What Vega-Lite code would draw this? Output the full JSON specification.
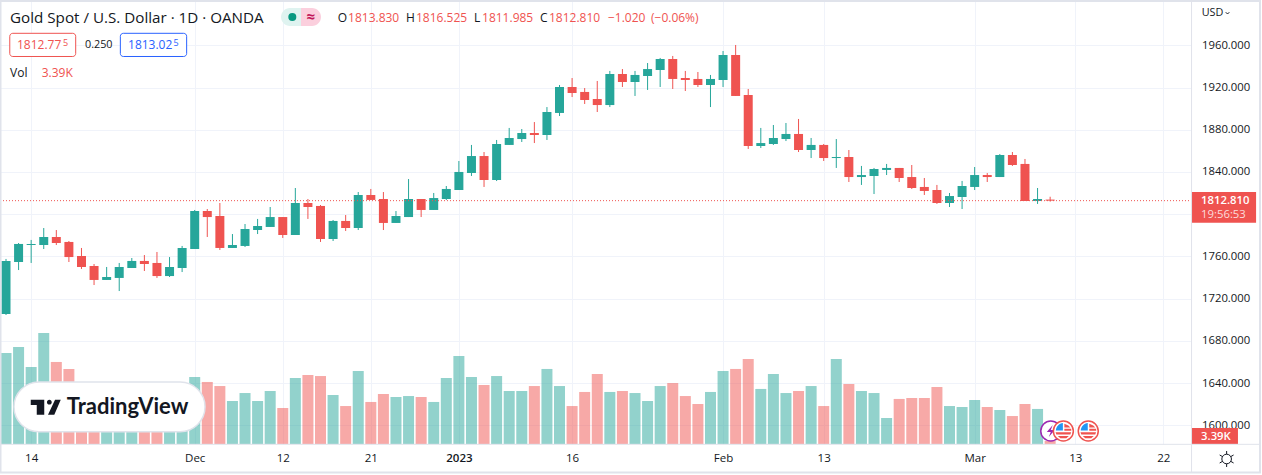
{
  "$schema": "https://vega.github.io/schema/vega-lite/v6.json",
  "description": "Gold Spot / U.S. Dollar daily candles with volume",
  "width": 1191,
  "height": 443,
  "autosize": "none",
  "padding": {"left": 0, "top": 1, "right": 71, "bottom": 31},
  "background": "#ffffff",
  "view": {"stroke": null},
  "config": {
    "font": "Open Sans",
    "axis": {"title": null},
    "text": {"font": "Open Sans"}
  },
  "datasets": {
    "candles": [
      {"bar":0,"open":1705.5,"close":1755.7,"high":1757.6,"low":1704.5,"volume":102.8,"dir":"up"},
      {"bar":1,"open":1754.7,"close":1771.8,"high":1772.7,"low":1747.1,"volume":109.6,"dir":"up"},
      {"bar":2,"open":1770.8,"close":1771.8,"high":1775.6,"low":1753.8,"volume":87.0,"dir":"up"},
      {"bar":3,"open":1770.8,"close":1778.4,"high":1786.9,"low":1767.0,"volume":125.4,"dir":"up"},
      {"bar":4,"open":1778.4,"close":1772.7,"high":1785.0,"low":1770.8,"volume":92.7,"dir":"down"},
      {"bar":5,"open":1773.7,"close":1759.4,"high":1774.6,"low":1754.7,"volume":84.8,"dir":"down"},
      {"bar":6,"open":1760.4,"close":1750.0,"high":1768.0,"low":1748.1,"volume":62.0,"dir":"down"},
      {"bar":7,"open":1750.9,"close":1737.7,"high":1752.8,"low":1732.9,"volume":56.5,"dir":"down"},
      {"bar":8,"open":1737.7,"close":1740.5,"high":1750.0,"low":1737.7,"volume":55.0,"dir":"up"},
      {"bar":9,"open":1739.6,"close":1750.0,"high":1753.8,"low":1727.2,"volume":57.6,"dir":"up"},
      {"bar":10,"open":1749.0,"close":1755.7,"high":1758.5,"low":1749.0,"volume":58.8,"dir":"up"},
      {"bar":11,"open":1755.7,"close":1752.8,"high":1761.3,"low":1746.2,"volume":54.2,"dir":"down"},
      {"bar":12,"open":1753.8,"close":1741.4,"high":1764.2,"low":1739.6,"volume":56.5,"dir":"down"},
      {"bar":13,"open":1741.4,"close":1750.0,"high":1759.4,"low":1740.5,"volume":61.0,"dir":"up"},
      {"bar":14,"open":1749.0,"close":1768.0,"high":1769.9,"low":1745.2,"volume":58.8,"dir":"up"},
      {"bar":15,"open":1767.0,"close":1803.0,"high":1804.0,"low":1767.0,"volume":75.7,"dir":"up"},
      {"bar":16,"open":1803.0,"close":1797.3,"high":1804.9,"low":1778.4,"volume":70.1,"dir":"down"},
      {"bar":17,"open":1798.3,"close":1768.0,"high":1810.6,"low":1766.1,"volume":65.5,"dir":"down"},
      {"bar":18,"open":1768.0,"close":1770.8,"high":1781.2,"low":1768.0,"volume":48.6,"dir":"up"},
      {"bar":19,"open":1769.9,"close":1786.0,"high":1790.7,"low":1768.9,"volume":57.6,"dir":"up"},
      {"bar":20,"open":1785.0,"close":1788.8,"high":1795.5,"low":1781.2,"volume":48.6,"dir":"up"},
      {"bar":21,"open":1787.9,"close":1797.3,"high":1806.8,"low":1787.9,"volume":59.9,"dir":"up"},
      {"bar":22,"open":1797.3,"close":1780.3,"high":1797.3,"low":1777.5,"volume":40.7,"dir":"down"},
      {"bar":23,"open":1780.3,"close":1810.6,"high":1824.8,"low":1780.3,"volume":74.6,"dir":"up"},
      {"bar":24,"open":1810.6,"close":1806.8,"high":1814.4,"low":1795.5,"volume":78.0,"dir":"down"},
      {"bar":25,"open":1807.8,"close":1776.5,"high":1808.7,"low":1773.7,"volume":76.8,"dir":"down"},
      {"bar":26,"open":1776.5,"close":1793.6,"high":1794.5,"low":1774.6,"volume":55.4,"dir":"up"},
      {"bar":27,"open":1793.6,"close":1786.9,"high":1799.2,"low":1784.1,"volume":42.9,"dir":"down"},
      {"bar":28,"open":1786.9,"close":1818.2,"high":1821.0,"low":1785.0,"volume":82.5,"dir":"up"},
      {"bar":29,"open":1818.2,"close":1813.5,"high":1823.9,"low":1813.5,"volume":47.5,"dir":"down"},
      {"bar":30,"open":1814.4,"close":1791.7,"high":1821.0,"low":1785.0,"volume":56.5,"dir":"down"},
      {"bar":31,"open":1791.7,"close":1798.3,"high":1803.0,"low":1791.7,"volume":53.1,"dir":"up"},
      {"bar":32,"open":1797.3,"close":1814.4,"high":1833.3,"low":1797.3,"volume":54.2,"dir":"up"},
      {"bar":33,"open":1814.4,"close":1804.0,"high":1814.4,"low":1797.3,"volume":53.1,"dir":"down"},
      {"bar":34,"open":1804.0,"close":1815.3,"high":1820.1,"low":1804.0,"volume":47.5,"dir":"up"},
      {"bar":35,"open":1814.4,"close":1823.9,"high":1826.7,"low":1813.4,"volume":74.6,"dir":"up"},
      {"bar":36,"open":1822.9,"close":1840.0,"high":1850.4,"low":1822.9,"volume":99.4,"dir":"up"},
      {"bar":37,"open":1839.0,"close":1855.1,"high":1865.6,"low":1836.2,"volume":75.7,"dir":"up"},
      {"bar":38,"open":1855.1,"close":1832.4,"high":1858.9,"low":1825.8,"volume":66.7,"dir":"down"},
      {"bar":39,"open":1832.4,"close":1866.5,"high":1870.3,"low":1831.4,"volume":76.8,"dir":"up"},
      {"bar":40,"open":1865.6,"close":1872.2,"high":1881.7,"low":1865.6,"volume":59.9,"dir":"up"},
      {"bar":41,"open":1871.2,"close":1876.9,"high":1880.7,"low":1868.4,"volume":59.9,"dir":"up"},
      {"bar":42,"open":1876.9,"close":1875.0,"high":1887.3,"low":1867.4,"volume":65.5,"dir":"down"},
      {"bar":43,"open":1875.0,"close":1896.8,"high":1901.5,"low":1870.3,"volume":84.8,"dir":"up"},
      {"bar":44,"open":1895.9,"close":1920.5,"high":1922.4,"low":1893.0,"volume":65.5,"dir":"up"},
      {"bar":45,"open":1920.5,"close":1914.8,"high":1929.0,"low":1911.0,"volume":42.9,"dir":"down"},
      {"bar":46,"open":1915.8,"close":1908.2,"high":1919.5,"low":1904.4,"volume":58.8,"dir":"down"},
      {"bar":47,"open":1909.1,"close":1903.4,"high":1926.2,"low":1896.8,"volume":79.1,"dir":"down"},
      {"bar":48,"open":1903.4,"close":1932.8,"high":1935.7,"low":1901.5,"volume":58.8,"dir":"up"},
      {"bar":49,"open":1932.8,"close":1925.2,"high":1937.5,"low":1920.5,"volume":59.9,"dir":"down"},
      {"bar":50,"open":1925.2,"close":1931.9,"high":1935.7,"low":1912.0,"volume":57.6,"dir":"up"},
      {"bar":51,"open":1930.9,"close":1937.5,"high":1943.2,"low":1917.7,"volume":48.6,"dir":"up"},
      {"bar":52,"open":1936.6,"close":1947.0,"high":1948.0,"low":1920.5,"volume":65.5,"dir":"up"},
      {"bar":53,"open":1947.0,"close":1928.1,"high":1949.9,"low":1918.6,"volume":68.9,"dir":"down"},
      {"bar":54,"open":1929.0,"close":1927.1,"high":1935.7,"low":1916.7,"volume":54.2,"dir":"down"},
      {"bar":55,"open":1928.1,"close":1922.4,"high":1934.7,"low":1920.5,"volume":45.2,"dir":"down"},
      {"bar":56,"open":1922.4,"close":1928.1,"high":1931.9,"low":1901.5,"volume":58.8,"dir":"up"},
      {"bar":57,"open":1927.1,"close":1950.8,"high":1954.6,"low":1920.5,"volume":82.5,"dir":"up"},
      {"bar":58,"open":1950.8,"close":1912.0,"high":1960.3,"low":1912.0,"volume":84.8,"dir":"down"},
      {"bar":59,"open":1912.9,"close":1864.6,"high":1918.6,"low":1861.8,"volume":96.1,"dir":"down"},
      {"bar":60,"open":1864.6,"close":1867.4,"high":1881.7,"low":1862.7,"volume":62.2,"dir":"up"},
      {"bar":61,"open":1866.5,"close":1872.2,"high":1884.5,"low":1865.6,"volume":79.1,"dir":"up"},
      {"bar":62,"open":1871.2,"close":1876.0,"high":1886.4,"low":1869.3,"volume":57.6,"dir":"up"},
      {"bar":63,"open":1876.0,"close":1860.8,"high":1890.2,"low":1858.9,"volume":59.9,"dir":"down"},
      {"bar":64,"open":1860.8,"close":1865.6,"high":1872.2,"low":1853.2,"volume":65.5,"dir":"up"},
      {"bar":65,"open":1865.6,"close":1853.2,"high":1866.5,"low":1850.4,"volume":42.9,"dir":"down"},
      {"bar":66,"open":1853.2,"close":1854.2,"high":1871.2,"low":1843.8,"volume":96.1,"dir":"up"},
      {"bar":67,"open":1854.2,"close":1835.2,"high":1860.8,"low":1830.5,"volume":67.8,"dir":"down"},
      {"bar":68,"open":1835.2,"close":1837.1,"high":1845.7,"low":1827.7,"volume":59.9,"dir":"up"},
      {"bar":69,"open":1836.2,"close":1842.8,"high":1843.8,"low":1819.1,"volume":57.6,"dir":"up"},
      {"bar":70,"open":1841.9,"close":1843.8,"high":1847.6,"low":1837.1,"volume":29.4,"dir":"up"},
      {"bar":71,"open":1843.8,"close":1834.3,"high":1843.8,"low":1830.5,"volume":50.9,"dir":"down"},
      {"bar":72,"open":1835.2,"close":1824.8,"high":1846.6,"low":1823.9,"volume":52.0,"dir":"down"},
      {"bar":73,"open":1825.8,"close":1822.0,"high":1834.3,"low":1818.2,"volume":52.0,"dir":"down"},
      {"bar":74,"open":1822.9,"close":1810.6,"high":1827.7,"low":1809.7,"volume":64.4,"dir":"down"},
      {"bar":75,"open":1810.6,"close":1817.2,"high":1820.1,"low":1806.8,"volume":42.9,"dir":"up"},
      {"bar":76,"open":1816.3,"close":1826.7,"high":1831.5,"low":1804.9,"volume":41.8,"dir":"up"},
      {"bar":77,"open":1825.8,"close":1837.1,"high":1844.7,"low":1822.9,"volume":49.7,"dir":"up"},
      {"bar":78,"open":1837.1,"close":1835.2,"high":1839.0,"low":1830.5,"volume":41.8,"dir":"down"},
      {"bar":79,"open":1835.2,"close":1856.1,"high":1857.0,"low":1835.2,"volume":38.4,"dir":"up"},
      {"bar":80,"open":1856.1,"close":1846.6,"high":1858.9,"low":1845.7,"volume":31.6,"dir":"down"},
      {"bar":81,"open":1847.6,"close":1812.5,"high":1852.3,"low":1812.5,"volume":45.2,"dir":"down"},
      {"bar":82,"open":1812.5,"close":1814.4,"high":1824.8,"low":1809.7,"volume":39.6,"dir":"up"},
      {"bar":83,"open":1813.83,"close":1812.81,"high":1816.525,"low":1811.985,"volume":3.39,"dir":"down"}
    ]
  },
  "encoding": {
    "x": {
      "field": "bar",
      "type": "quantitative",
      "title": null,
      "scale": {"domain": [-0.477, 94.197], "nice": false, "zero": false, "padding": 0},
      "axis": {
        "values": [2, 15, 22, 29, 36, 45, 57, 65, 77, 85, 92],
        "labelExpr": "{'2':'14','15':'Dec','22':'12','29':'21','36':'2023','45':'16','57':'Feb','65':'13','77':'Mar','85':'13','92':'22'}[datum.value]",
        "grid": true,
        "gridColor": "#f0f3fa",
        "gridWidth": 1,
        "ticks": false,
        "domain": false,
        "labelColor": "#131722",
        "labelFontSize": 11.5,
        "labelPadding": 8,
        "labelFlush": false,
        "labelOverlap": false,
        "labelFontWeight": {"condition": {"test": "datum.value == 36", "value": 600}, "value": "normal"}
      }
    }
  },
  "layer": [
    {
      "data": {"name": "candles"},
      "mark": {"type": "bar", "size": 11, "orient": "vertical", "opacity": 0.5},
      "encoding": {
        "y": {"field": "volume", "type": "quantitative", "axis": null, "scale": {"domain": [0, 500.6], "nice": false}},
        "color": {"field": "dir", "type": "nominal", "legend": null, "scale": {"domain": ["up", "down"], "range": ["#26a69a", "#ef5350"]}}
      }
    },
    {
      "layer": [
        {
          "data": {"name": "candles"},
          "mark": {"type": "rule", "strokeWidth": 1},
          "encoding": {
            "y": {
              "field": "low",
              "type": "quantitative",
              "title": null,
              "scale": {"domain": [1582.3, 2001.96], "nice": false, "zero": false},
              "axis": {
                "orient": "right",
                "values": [1600, 1640, 1680, 1720, 1760, 1800, 1840, 1880, 1920, 1960],
                "labelExpr": "datum.value == 1800 ? '' : format(datum.value, '.3f')",
                "grid": true,
                "gridColor": "#f0f3fa",
                "gridWidth": 1,
                "ticks": false,
                "domain": false,
                "labelColor": "#131722",
                "labelFontSize": 11.3,
                "labelPadding": 10.5,
                "labelOverlap": false
              }
            },
            "y2": {"field": "high"},
            "color": {"field": "dir", "type": "nominal", "legend": null}
          }
        },
        {
          "data": {"name": "candles"},
          "mark": {"type": "bar", "size": 9, "orient": "vertical"},
          "encoding": {
            "y": {"field": "open", "type": "quantitative", "title": null},
            "y2": {"field": "close"},
            "color": {"field": "dir", "type": "nominal", "legend": null}
          }
        },
        {
          "data": {"values": [{"price": 1812.81}]},
          "mark": {"type": "rule", "color": "#ef5350", "strokeWidth": 1, "strokeDash": [1, 2]},
          "encoding": {
            "x": {"value": 0},
            "x2": {"value": 1191},
            "y": {"field": "price", "type": "quantitative", "title": null}
          }
        },
        {
          "data": {"values": [{"bar": 0.3, "bar2": 5.54, "price": 1971.36, "price2": 1949.39}]},
          "mark": {"type": "rect", "fill": "#ffffff", "stroke": "#ef5350", "strokeWidth": 1, "cornerRadius": 3},
          "encoding": {"x2": {"field": "bar2"}, "y": {"field": "price", "type": "quantitative", "title": null}, "y2": {"field": "price2"}}
        },
        {
          "data": {"values": [{"bar": 9.09, "bar2": 14.36, "price": 1971.36, "price2": 1949.39}]},
          "mark": {"type": "rect", "fill": "#ffffff", "stroke": "#2962ff", "strokeWidth": 1, "cornerRadius": 3},
          "encoding": {"x2": {"field": "bar2"}, "y": {"field": "price", "type": "quantitative", "title": null}, "y2": {"field": "price2"}}
        },
        {
          "data": {"values": [{"bar": 21.86, "bar2": 23.45, "price": 1995.33, "price2": 1978.28}]},
          "mark": {"type": "rect", "fill": "#dff3f0", "cornerRadiusTopLeft": 9, "cornerRadiusBottomLeft": 9},
          "encoding": {"x2": {"field": "bar2"}, "y": {"field": "price", "type": "quantitative", "title": null}, "y2": {"field": "price2"}}
        },
        {
          "data": {"values": [{"bar": 23.45, "bar2": 25.04, "price": 1995.33, "price2": 1978.28}]},
          "mark": {"type": "rect", "fill": "#fbcfdd", "cornerRadiusTopRight": 9, "cornerRadiusBottomRight": 9},
          "encoding": {"x2": {"field": "bar2"}, "y": {"field": "price", "type": "quantitative", "title": null}, "y2": {"field": "price2"}}
        },
        {
          "data": {"values": [{"bar": 22.76, "price": 1986.8}]},
          "mark": {"type": "point", "shape": "circle", "filled": true, "opacity": 1, "size": 64, "color": "#089981"},
          "encoding": {"y": {"field": "price", "type": "quantitative", "title": null}}
        },
        {
          "data": {"values": [{"bar": 0.636, "bar2": 15.82, "price": 1641.03, "price2": 1593.95}]},
          "mark": {"type": "rect", "fill": "#ffffff", "stroke": "#e0e3eb", "strokeWidth": 1.5, "cornerRadius": 25},
          "encoding": {"x2": {"field": "bar2"}, "y": {"field": "price", "type": "quantitative", "title": null}, "y2": {"field": "price2"}}
        },
        {
          "data": {"values": [{"bar": 3.16, "price": 1617.06}]},
          "mark": {"type": "point", "filled": true, "opacity": 1, "color": "#131722", "size": 900, "shape": "M-1,-.5L-.1,-.5L-.1,.5L-.6,.5L-.6,-.15L-1,-.15ZM.08,-.34A.16,.16 0 1,1 .4,-.34A.16,.16 0 1,1 .08,-.34ZM.62,-.5L1,-.5L.57,.5L.15,.5Z"},
          "encoding": {"y": {"field": "price", "type": "quantitative", "title": null}}
        },
        {
          "data": {"values": [{"bar": 4.83, "price": 1617.06, "label": "TradingView"}]},
          "mark": {"type": "text", "align": "left", "baseline": "middle", "font": "Lato", "fontSize": 22, "fontWeight": "bold", "color": "#131722"},
          "encoding": {"y": {"field": "price", "type": "quantitative", "title": null}, "text": {"field": "label"}}
        },
        {
          "data": {"values": [{"bar": 83.05, "price": 1594.6}]},
          "mark": {"type": "point", "shape": "circle", "filled": true, "opacity": 1, "fill": "#ffffff", "stroke": "#9c27b0", "strokeWidth": 1.5, "size": 400},
          "encoding": {"y": {"field": "price", "type": "quantitative", "title": null}}
        },
        {
          "data": {"values": [{"bar": 83.05, "price": 1594.6}]},
          "mark": {"type": "point", "filled": true, "opacity": 1, "color": "#9c27b0", "size": 400, "shape": "M.2,-.6L-.4,.1L0,.1L-.2,.6L.4,-.1L0,-.1Z"},
          "encoding": {"y": {"field": "price", "type": "quantitative", "title": null}}
        },
        {
          "data": {"values": [{"bar": 84.05, "price": 1594.6}, {"bar": 86.03, "price": 1594.6}]},
          "mark": {"type": "point", "shape": "circle", "filled": true, "opacity": 1, "fill": "#ffffff", "stroke": "#ef5350", "strokeWidth": 1.5, "size": 400},
          "encoding": {"y": {"field": "price", "type": "quantitative", "title": null}}
        },
        {
          "data": {"values": [{"bar": 84.05, "price": 1594.6}, {"bar": 86.03, "price": 1594.6}]},
          "mark": {"type": "point", "filled": true, "opacity": 1, "color": "#2196f3", "size": 400, "shape": "M-.75,-.05A.8,.8 0 0 1 -.05,-.8L-.05,-.05Z"},
          "encoding": {"y": {"field": "price", "type": "quantitative", "title": null}}
        },
        {
          "data": {"values": [{"bar": 84.05, "price": 1594.6}, {"bar": 86.03, "price": 1594.6}]},
          "mark": {"type": "point", "filled": true, "opacity": 1, "color": "#ef5350", "size": 400, "shape": "M.1,-.72L.5,-.55L.7,-.35L.1,-.35ZM.1,-.22L.78,-.22L.8,-.02L.1,-.02ZM-.78,.12L.78,.12L.7,.34L-.7,.34ZM-.55,.5L.55,.5L.3,.72L-.3,.72Z"},
          "encoding": {"y": {"field": "price", "type": "quantitative", "title": null}}
        },
        {
          "data": {"values": [{"bar": 94.24, "bar2": 99.37, "price": 1821.03, "price2": 1792.0}, {"bar": 94.24, "bar2": 97.93, "price": 1597.45, "price2": 1582.3}]},
          "mark": {"type": "rect", "fill": "#ef5350"},
          "encoding": {"x2": {"field": "bar2"}, "y": {"field": "price", "type": "quantitative", "title": null}, "y2": {"field": "price2"}}
        },
        {
          "data": {"values": [{"bar": 97.03, "price": 1568.1}]},
          "mark": {"type": "point", "filled": false, "opacity": 1, "color": "#131722", "strokeWidth": 1, "size": 256, "shape": "M-.6,0A.6,.6 0 1,1 .6,0A.6,.6 0 1,1 -.6,0ZM0,-.6L0,-1M0,.6L0,1M-.52,-.3L-.87,-.5M.52,-.3L.87,-.5M-.52,.3L-.87,.5M.52,.3L.87,.5"},
          "encoding": {"y": {"field": "price", "type": "quantitative", "title": null}}
        },
        {
          "data": {"values": [{"bar": 97.1, "price": 1990.6}]},
          "mark": {"type": "point", "filled": false, "opacity": 1, "color": "#131722", "strokeWidth": 1, "size": 25, "shape": "M-.7,-.3L0,.4L.7,-.3"},
          "encoding": {"y": {"field": "price", "type": "quantitative", "title": null}}
        },
        {
          "data": {"values": [{"bar": 0.32, "price": 1985.86, "label": "Gold Spot / U.S. Dollar · 1D · OANDA"}]},
          "mark": {"type": "text", "align": "left", "baseline": "middle", "fontSize": 15.2, "color": "#131722"},
          "encoding": {"y": {"field": "price", "type": "quantitative", "title": null}, "text": {"field": "label"}}
        },
        {
          "data": {"values": [
            {"bar": 26.37, "price": 1985.86, "label": "O"},
            {"bar": 31.8, "price": 1985.86, "label": "H"},
            {"bar": 37.2, "price": 1985.86, "label": "L"},
            {"bar": 42.45, "price": 1985.86, "label": "C"},
            {"bar": 0.32, "price": 1933.75, "label": "Vol"}
          ]},
          "mark": {"type": "text", "align": "left", "baseline": "middle", "fontSize": 12, "color": "#131722"},
          "encoding": {"y": {"field": "price", "type": "quantitative", "title": null}, "text": {"field": "label"}}
        },
        {
          "data": {"values": [
            {"bar": 6.28, "price": 1960.28, "label": "0.250"},
            {"bar": 95.05, "price": 1990.6, "label": "USD"}
          ]},
          "mark": {"type": "text", "align": "left", "baseline": "middle", "fontSize": 10.8, "color": "#131722"},
          "encoding": {"y": {"field": "price", "type": "quantitative", "title": null}, "text": {"field": "label"}}
        },
        {
          "data": {"values": [
            {"bar": 27.19, "price": 1985.86, "label": "1813.830"},
            {"bar": 32.59, "price": 1985.86, "label": "1816.525"},
            {"bar": 37.84, "price": 1985.86, "label": "1811.985"},
            {"bar": 43.16, "price": 1985.86, "label": "1812.810"},
            {"bar": 47.85, "price": 1985.86, "label": "−1.020"},
            {"bar": 51.27, "price": 1985.86, "label": "(−0.06%)"},
            {"bar": 0.87, "price": 1960.28, "label": "1812.77"},
            {"bar": 2.84, "price": 1933.75, "label": "3.39K"}
          ]},
          "mark": {"type": "text", "align": "left", "baseline": "middle", "fontSize": 12, "color": "#ef5350"},
          "encoding": {"y": {"field": "price", "type": "quantitative", "title": null}, "text": {"field": "label"}}
        },
        {
          "data": {"values": [{"bar": 4.53, "price": 1962.17, "label": "5"}]},
          "mark": {"type": "text", "align": "left", "baseline": "middle", "fontSize": 9, "color": "#ef5350"},
          "encoding": {"y": {"field": "price", "type": "quantitative", "title": null}, "text": {"field": "label"}}
        },
        {
          "data": {"values": [{"bar": 9.7, "price": 1960.28, "label": "1813.02"}]},
          "mark": {"type": "text", "align": "left", "baseline": "middle", "fontSize": 12, "color": "#2962ff"},
          "encoding": {"y": {"field": "price", "type": "quantitative", "title": null}, "text": {"field": "label"}}
        },
        {
          "data": {"values": [{"bar": 13.31, "price": 1962.17, "label": "5"}]},
          "mark": {"type": "text", "align": "left", "baseline": "middle", "fontSize": 9, "color": "#2962ff"},
          "encoding": {"y": {"field": "price", "type": "quantitative", "title": null}, "text": {"field": "label"}}
        },
        {
          "data": {"values": [{"bar": 23.89, "price": 1986.33, "label": "≈"}]},
          "mark": {"type": "text", "align": "left", "baseline": "middle", "fontSize": 15, "fontWeight": "bold", "color": "#c2185b"},
          "encoding": {"y": {"field": "price", "type": "quantitative", "title": null}, "text": {"field": "label"}}
        },
        {
          "data": {"values": [
            {"bar": 95.0, "price": 1812.78, "label": "1812.810"},
            {"bar": 95.0, "price": 1589.2, "label": "3.39K"}
          ]},
          "mark": {"type": "text", "align": "left", "baseline": "middle", "fontSize": 11.3, "fontWeight": 600, "color": "#ffffff"},
          "encoding": {"y": {"field": "price", "type": "quantitative", "title": null}, "text": {"field": "label"}}
        },
        {
          "data": {"values": [{"bar": 95.0, "price": 1799.52, "label": "19:56:53"}]},
          "mark": {"type": "text", "align": "left", "baseline": "middle", "fontSize": 11.3, "color": "#fbdcdc"},
          "encoding": {"y": {"field": "price", "type": "quantitative", "title": null}, "text": {"field": "label"}}
        },
        {
          "data": {"values": [{"bar": -0.437, "bar2": 99.68, "price": 2001.96, "price2": 1555.3}]},
          "mark": {"type": "rect", "fill": null, "stroke": "#e0e3eb", "strokeWidth": 2},
          "encoding": {"x2": {"field": "bar2"}, "y": {"field": "price", "type": "quantitative", "title": null}, "y2": {"field": "price2"}}
        },
        {
          "data": {"values": [{"bar": -0.477, "bar2": 99.68, "price": 1582.0}]},
          "mark": {"type": "rule", "color": "#e0e3eb", "strokeWidth": 1},
          "encoding": {"x2": {"field": "bar2"}, "y": {"field": "price", "type": "quantitative", "title": null}}
        },
        {
          "data": {"values": [{"bar": 94.24, "price": 2001.96, "price2": 1555.3}]},
          "mark": {"type": "rule", "color": "#e0e3eb", "strokeWidth": 1},
          "encoding": {"y": {"field": "price", "type": "quantitative", "title": null}, "y2": {"field": "price2"}}
        }
      ]
    }
  ],
  "resolve": {"scale": {"y": "independent"}}
}
